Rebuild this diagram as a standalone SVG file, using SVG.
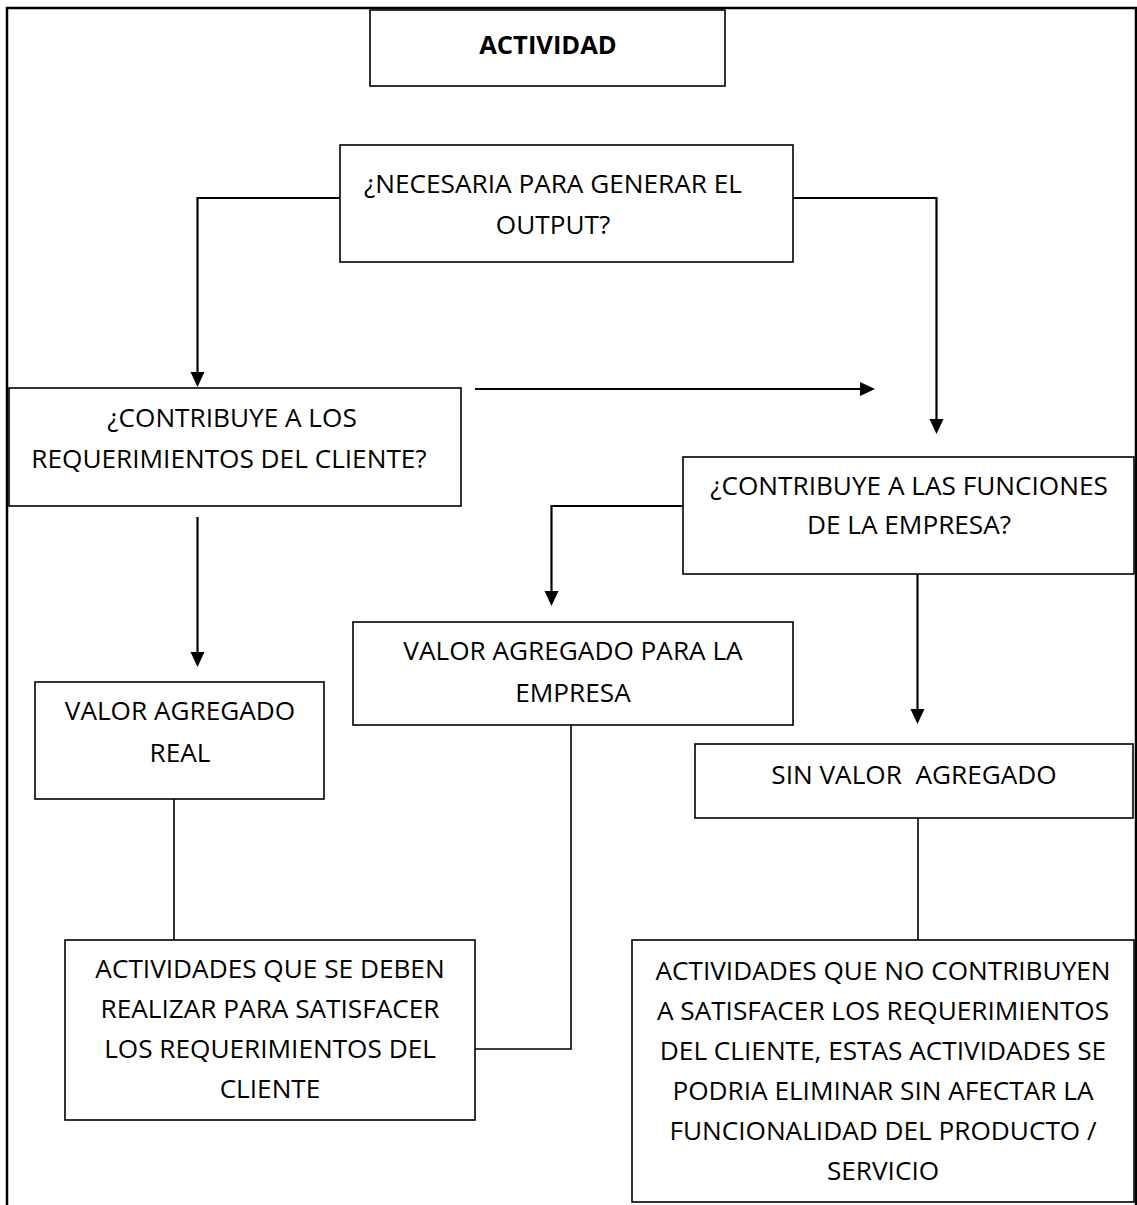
<svg xmlns="http://www.w3.org/2000/svg" width="1137" height="1205" viewBox="0 0 1137 1205">
  <style>
    .frame { fill: none; stroke: #000; stroke-width: 2.5; }
    .box { fill: #fff; stroke: #000; stroke-width: 1.6; }
    .lbl { font-family: "Open Sans", "Liberation Sans", sans-serif; font-size: 26.2px; fill: #000; text-anchor: middle; }
    .title { font-weight: bold; font-size: 25.5px; }
    .line { fill: none; stroke: #000; stroke-width: 2.2; }
    .link { fill: none; stroke: #000; stroke-width: 1.6; }
  </style>
  <defs>
    <!-- downward and rightward arrowheads, tip at the origin -->
    <path id="head-down" d="M-7,-15 L7,-15 L0,0 Z" fill="#000"/>
    <path id="head-right" d="M-15,-7 L0,0 L-15,7 Z" fill="#000"/>
  </defs>
  <rect width="1137" height="1205" fill="#fff"/>

  <!-- outer page frame -->
  <path class="frame" d="M7,1205 V8 H1136 V1205"/>

  <!-- connectors -->
  <g id="connectors">
    <path class="line" d="M340,198 H197.5 V373"/>
    <use href="#head-down" x="197.5" y="387"/>
    <path class="line" d="M793,198 H936.5 V420"/>
    <use href="#head-down" x="936.5" y="434"/>
    <path class="line" d="M475,389 H861"/>
    <use href="#head-right" x="875" y="389"/>
    <path class="line" d="M197.5,517 V653"/>
    <use href="#head-down" x="197.5" y="667"/>
    <path class="line" d="M683,506 H551.5 V592"/>
    <use href="#head-down" x="551.5" y="606"/>
    <path class="line" d="M917.5,574 V710"/>
    <use href="#head-down" x="917.5" y="724"/>
    <path class="link" d="M174,799 V940"/>
    <path class="link" d="M571,725 V1049 H475"/>
    <path class="link" d="M918,818 V940"/>
  </g>

  <g id="actividad">
    <rect class="box" x="370" y="10" width="355" height="76"/>
    <text class="lbl title" x="548" y="54">ACTIVIDAD</text>
  </g>

  <g id="necesaria">
    <rect class="box" x="340" y="145" width="453" height="117"/>
    <text class="lbl" x="553" y="193">¿NECESARIA PARA GENERAR EL</text>
    <text class="lbl" x="553" y="234">OUTPUT?</text>
  </g>

  <g id="contribuye-cliente">
    <rect class="box" x="9" y="388" width="452" height="118"/>
    <text class="lbl" x="232" y="427">¿CONTRIBUYE A LOS</text>
    <text class="lbl" x="229" y="468">REQUERIMIENTOS DEL CLIENTE?</text>
  </g>

  <g id="contribuye-empresa">
    <rect class="box" x="683" y="457" width="451" height="117"/>
    <text class="lbl" x="909" y="495">¿CONTRIBUYE A LAS FUNCIONES</text>
    <text class="lbl" x="909" y="534">DE LA EMPRESA?</text>
  </g>

  <g id="valor-empresa">
    <rect class="box" x="353" y="622" width="440" height="103"/>
    <text class="lbl" x="573" y="660">VALOR AGREGADO PARA LA</text>
    <text class="lbl" x="573" y="702">EMPRESA</text>
  </g>

  <g id="valor-real">
    <rect class="box" x="35" y="682" width="289" height="117"/>
    <text class="lbl" x="180" y="720">VALOR AGREGADO</text>
    <text class="lbl" x="180" y="762">REAL</text>
  </g>

  <g id="sin-valor">
    <rect class="box" x="695" y="744" width="438" height="74"/>
    <text class="lbl" x="914" y="784" xml:space="preserve">SIN VALOR  AGREGADO</text>
  </g>

  <g id="actividades-cliente">
    <rect class="box" x="65" y="940" width="410" height="180"/>
    <text class="lbl" x="270" y="978">ACTIVIDADES QUE SE DEBEN</text>
    <text class="lbl" x="270" y="1018">REALIZAR PARA SATISFACER</text>
    <text class="lbl" x="270" y="1058">LOS REQUERIMIENTOS DEL</text>
    <text class="lbl" x="270" y="1098">CLIENTE</text>
  </g>

  <g id="actividades-sin-valor">
    <rect class="box" x="632" y="940" width="502" height="262"/>
    <text class="lbl" x="883" y="980">ACTIVIDADES QUE NO CONTRIBUYEN</text>
    <text class="lbl" x="883" y="1020">A SATISFACER LOS REQUERIMIENTOS</text>
    <text class="lbl" x="883" y="1060">DEL CLIENTE, ESTAS ACTIVIDADES SE</text>
    <text class="lbl" x="883" y="1100">PODRIA ELIMINAR SIN AFECTAR LA</text>
    <text class="lbl" x="883" y="1140">FUNCIONALIDAD DEL PRODUCTO /</text>
    <text class="lbl" x="883" y="1180">SERVICIO</text>
  </g>
</svg>
